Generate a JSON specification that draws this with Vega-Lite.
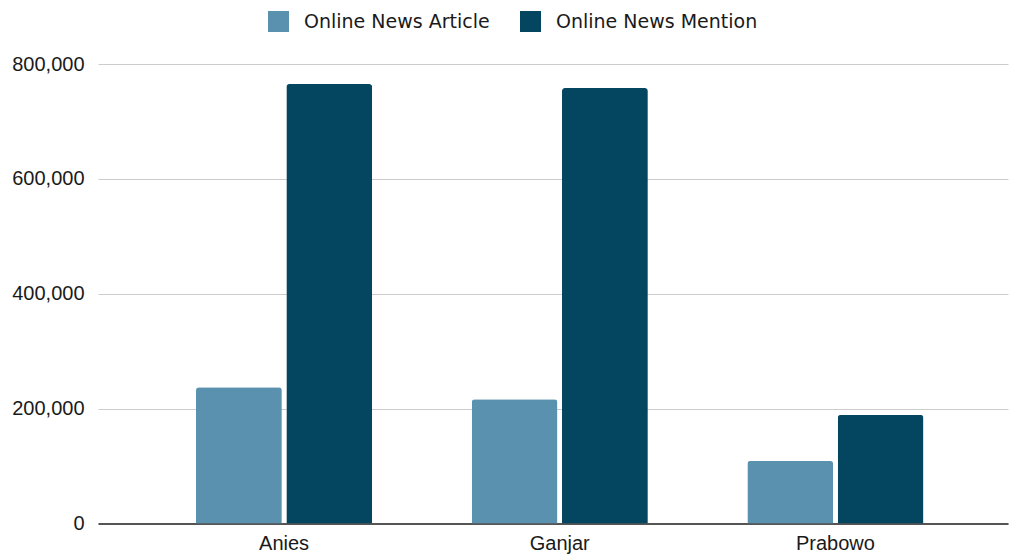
{
  "$schema": "https://vega.github.io/schema/vega-lite/v6.json",
  "autosize": {"type": "none"},
  "width": 910,
  "height": 459.5,
  "padding": {"left": 98, "top": 64, "right": 2, "bottom": 32.5},
  "background": "#ffffff",
  "data": {
    "values": [
      {"candidate": "Anies", "series": "Online News Article", "value": 237000},
      {"candidate": "Anies", "series": "Online News Mention", "value": 765000},
      {"candidate": "Ganjar", "series": "Online News Article", "value": 216500},
      {"candidate": "Ganjar", "series": "Online News Mention", "value": 758000},
      {"candidate": "Prabowo", "series": "Online News Article", "value": 109000},
      {"candidate": "Prabowo", "series": "Online News Mention", "value": 189000}
    ]
  },
  "mark": {"type": "bar", "cornerRadiusTopLeft": 3, "cornerRadiusTopRight": 3},
  "encoding": {
    "x": {
      "field": "candidate",
      "type": "nominal",
      "sort": null,
      "scale": {"paddingInner": 0.361, "paddingOuter": 0.331, "align": 0.537},
      "axis": {
        "title": null,
        "labelAngle": 0,
        "labelFont": "Liberation Sans",
        "labelFontSize": 20,
        "labelColor": "#1a1a1a",
        "labelPadding": 10,
        "ticks": false,
        "domainColor": "#555555",
        "domainWidth": 2,
        "grid": false
      }
    },
    "xOffset": {
      "field": "series",
      "type": "nominal",
      "scale": {"paddingInner": 0.05, "paddingOuter": 0}
    },
    "y": {
      "field": "value",
      "type": "quantitative",
      "scale": {"domain": [0, 800000], "nice": false},
      "axis": {
        "title": null,
        "values": [0, 200000, 400000, 600000, 800000],
        "format": ",.0f",
        "labelFont": "Liberation Sans",
        "labelFontSize": 20,
        "labelColor": "#1a1a1a",
        "labelPadding": 14,
        "ticks": false,
        "domain": false,
        "gridColor": "#cccccc",
        "gridWidth": 1.2
      }
    },
    "color": {
      "field": "series",
      "type": "nominal",
      "scale": {
        "domain": ["Online News Article", "Online News Mention"],
        "range": ["#5a91ae", "#04455f"]
      },
      "legend": {
        "title": null,
        "orient": "none",
        "direction": "horizontal",
        "legendX": 170,
        "legendY": -53,
        "padding": 0,
        "symbolType": "square",
        "symbolSize": 440,
        "symbolStrokeWidth": 0,
        "symbolOpacity": 1,
        "labelFont": "DejaVu Sans",
        "labelFontSize": 19,
        "labelLimit": 500,
        "labelColor": "#1a1a1a",
        "labelOffset": 15,
        "columnPadding": 30
      }
    }
  },
  "config": {"view": {"stroke": null}}
}
